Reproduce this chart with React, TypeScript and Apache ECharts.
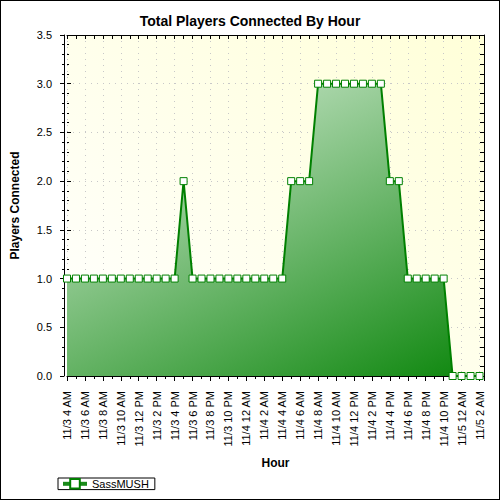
import React, { useEffect, useRef } from 'react';
import * as echarts from 'echarts';

// one value per hour, starting 11/3 4 AM
const playersPerHour = [
  1, 1, 1, 1, 1, 1, 1, 1, 1, 1, 1, 1, 1,
  2,
  1, 1, 1, 1, 1, 1, 1, 1, 1, 1, 1,
  2, 2, 2,
  3, 3, 3, 3, 3, 3, 3, 3,
  2, 2,
  1, 1, 1, 1, 1,
  0, 0, 0, 0,
];

// labels shown every 2 hours
const tickLabels = [
  '11/3 4 AM', '11/3 6 AM', '11/3 8 AM', '11/3 10 AM', '11/3 12 PM', '11/3 2 PM',
  '11/3 4 PM', '11/3 6 PM', '11/3 8 PM', '11/3 10 PM', '11/4 12 AM', '11/4 2 AM',
  '11/4 4 AM', '11/4 6 AM', '11/4 8 AM', '11/4 10 AM', '11/4 12 PM', '11/4 2 PM',
  '11/4 4 PM', '11/4 6 PM', '11/4 8 PM', '11/4 10 PM', '11/5 12 AM', '11/5 2 AM',
];

const yTicks = [0, 0.5, 1, 1.5, 2, 2.5, 3, 3.5];

const font = '"Liberation Sans", Arial, sans-serif';
const dotted = { color: '#c8c8c8', width: 1, type: [1, 5] as number[] };

function App() {
  const chartRef = useRef<HTMLDivElement>(null);

  useEffect(() => {
    if (!chartRef.current) return;
    const chart = echarts.init(chartRef.current, undefined, { renderer: 'svg' });

    const yBase = {
      type: 'value' as const,
      min: yTicks[0],
      max: yTicks[yTicks.length - 1],
      interval: 0.5,
    };
    const xBase = {
      type: 'value' as const,
      min: 0,
      max: 46.5,
      interval: 2,
    };

    const option = {
      animation: false,
      textStyle: { fontFamily: font },
      title: {
        text: 'Total Players Connected By Hour',
        left: 'center',
        top: 8,
        textStyle: { fontSize: 14, fontWeight: 'bold', color: '#000', fontFamily: font },
      },
      legend: {
        left: 57,
        top: 477,
        padding: [0, 6, 0, 3],
        itemWidth: 24,
        itemHeight: 12,
        borderColor: '#000',
        borderWidth: 1,
        borderRadius: 0,
        textStyle: { fontSize: 11, color: '#000', fontFamily: font },
        lineStyle: { width: 4, color: '#1a8a1a' },
        data: ['SassMUSH'],
      },
      grid: {
        left: 61,
        right: 15,
        top: 34,
        bottom: 123,
        show: true,
        borderWidth: 0,
        backgroundColor: new echarts.graphic.LinearGradient(0, 1, 1, 0, [
          { offset: 0, color: '#ffffff' },
          { offset: 1, color: '#ffffd8' },
        ]),
      },
      xAxis: [
        {
          ...xBase,
          position: 'bottom',
          name: 'Hour',
          nameLocation: 'middle',
          nameGap: 81,
          nameTextStyle: { fontSize: 12, fontWeight: 'bold', color: '#000', fontFamily: font },
          axisLine: { show: true, onZero: false, lineStyle: { color: '#000', width: 1 } },
          axisTick: { show: true, length: 5, lineStyle: { color: '#000' } },
          minorTick: { show: true, splitNumber: 2, length: 3, lineStyle: { color: '#000' } },
          axisLabel: {
            rotate: 90,
            margin: 15,
            fontSize: 11,
            color: '#000',
            fontFamily: font,
            showMaxLabel: false,
            formatter: (v: number) =>
              Number.isInteger(v) && v % 2 === 0 ? tickLabels[v / 2] ?? '' : '',
          },
          splitLine: { show: true, lineStyle: dotted },
        },
        {
          ...xBase,
          position: 'bottom',
          axisLine: { show: false },
          axisTick: { show: true, inside: true, length: 3, lineStyle: { color: '#000' } },
          axisLabel: { show: false },
          splitLine: { show: false },
        },
        {
          ...xBase,
          interval: 1,
          position: 'top',
          axisLine: { show: true, onZero: false, lineStyle: { color: '#000', width: 1 } },
          axisTick: { show: true, inside: true, length: 4, lineStyle: { color: '#000' } },
          axisLabel: { show: false },
          splitLine: { show: false },
        },
      ],
      yAxis: [
        {
          ...yBase,
          position: 'left',
          offset: 3,
          name: 'Players Connected',
          nameLocation: 'middle',
          nameGap: 43,
          nameTextStyle: { fontSize: 12, fontWeight: 'bold', color: '#000', fontFamily: font },
          axisLine: { show: true, onZero: false, lineStyle: { color: '#000', width: 1 } },
          axisTick: { show: true, length: 4, lineStyle: { color: '#000' } },
          minorTick: { show: true, splitNumber: 5, length: 2, lineStyle: { color: '#000' } },
          axisLabel: {
            margin: 12,
            fontSize: 11,
            color: '#000',
            fontFamily: font,
            formatter: (v: number) => v.toFixed(1),
          },
          splitLine: { show: true, lineStyle: dotted },
        },
        {
          ...yBase,
          position: 'left',
          offset: 3,
          axisLine: { show: false },
          axisTick: { show: true, inside: true, length: 4, lineStyle: { color: '#000' } },
          minorTick: { show: true, splitNumber: 5, length: 2, lineStyle: { color: '#000' } },
          axisLabel: { show: false },
          splitLine: { show: false },
        },
        {
          ...yBase,
          position: 'right',
          axisLine: { show: true, onZero: false, lineStyle: { color: '#000', width: 1 } },
          axisTick: { show: true, inside: true, length: 4, lineStyle: { color: '#000' } },
          minorTick: { show: true, splitNumber: 5, length: 4, lineStyle: { color: '#000' } },
          axisLabel: { show: false },
          splitLine: { show: false },
        },
      ],
      series: [
        {
          name: 'SassMUSH',
          type: 'line',
          xAxisIndex: 0,
          yAxisIndex: 0,
          data: playersPerHour.map((v, i) => [i, v]),
          symbol: 'rect',
          symbolSize: 7,
          showAllSymbol: true,
          itemStyle: { color: '#ffffff', borderColor: '#008000', borderWidth: 1 },
          lineStyle: { color: '#008000', width: 2 },
          areaStyle: {
            opacity: 1,
            color: new echarts.graphic.LinearGradient(0, 0, 1, 1.42, [
              { offset: 0, color: 'rgb(222,240,222)' },
              { offset: 0.85, color: 'rgb(0,128,0)' },
              { offset: 1, color: 'rgb(0,120,0)' },
            ]),
          },
        },
      ],
    };

    chart.setOption(option);
    return () => {
      chart.dispose();
    };
  }, []);

  return (
    <div
      style={{
        position: 'fixed',
        top: 0,
        left: 0,
        width: '500px',
        height: '500px',
        boxSizing: 'border-box',
        border: '1px solid #000',
        background: '#fff',
      }}
    >
      <div ref={chartRef} style={{ width: '498px', height: '498px' }} />
    </div>
  );
}

export default App;
